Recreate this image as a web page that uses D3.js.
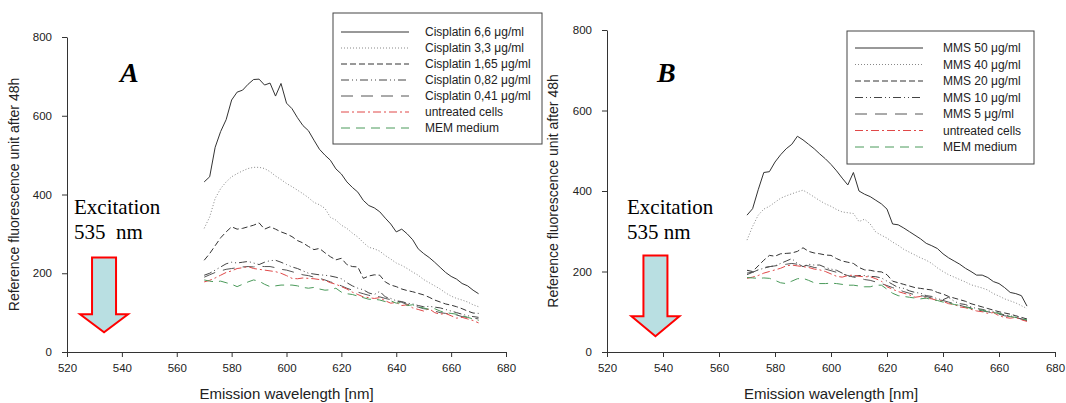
<!DOCTYPE html>
<html>
<head>
<meta charset="utf-8">
<script src="https://cdn.jsdelivr.net/npm/d3@7/dist/d3.min.js"></script>
<style>
body { margin: 0; background: #fff; }
svg { display: block; }
</style>
</head>
<body>
<div id="chart"></div>
<script>
// emission wavelengths (nm), shared by all curves
var wavelengths = [570, 572, 574, 576, 578, 580, 582, 584, 586, 588, 590, 592, 594, 596, 598, 600,
    602, 604, 606, 608, 610, 612, 614, 616, 618, 620, 622, 624, 626, 628, 630, 632, 634, 636, 638, 640,
    642, 644, 646, 648, 650, 652, 654, 656, 658, 660, 662, 664, 666, 668, 670];

var xTicks = [520, 540, 560, 580, 600, 620, 640, 660, 680];
var yTicks = [0, 200, 400, 600, 800];

// panel A - cisplatin
var cisplatin66 = [432, 445, 520, 560, 590, 640, 660, 665, 680, 692, 693, 678, 683, 650, 682, 632,
    618, 595, 575, 562, 538, 515, 500, 487, 465, 452, 432, 418, 406, 385, 372, 366, 356, 340, 325, 305,
    312, 300, 285, 262, 250, 240, 228, 215, 202, 192, 185, 174, 168, 157, 148];
var cisplatin33 = [314, 343, 390, 415, 432, 445, 453, 460, 466, 469, 469, 466, 458, 447, 438, 428,
    420, 411, 402, 392, 380, 374, 365, 342, 335, 322, 314, 302, 292, 278, 266, 262, 256, 245, 236, 226,
    220, 212, 203, 195, 184, 176, 168, 160, 150, 142, 136, 132, 127, 120, 115];
var cisplatin165 = [233, 250, 270, 290, 305, 318, 312, 314, 318, 322, 328, 312, 318, 312, 305, 300,
    293, 283, 277, 268, 260, 263, 252, 242, 234, 238, 222, 217, 216, 187, 193, 196, 195, 178, 170, 166,
    160, 156, 153, 149, 145, 139, 132, 127, 122, 119, 115, 110, 104, 99, 98];
var cisplatin082 = [195, 200, 208, 216, 224, 228, 226, 228, 230, 226, 222, 228, 232, 233, 228, 222,
    216, 212, 206, 200, 198, 196, 195, 193, 190, 186, 176, 168, 162, 158, 150, 146, 154, 140, 136, 130,
    128, 124, 122, 118, 115, 116, 114, 112, 108, 104, 100, 96, 92, 90, 88];
var cisplatin041 = [190, 196, 202, 206, 210, 212, 214, 216, 217, 216, 218, 217, 217, 214, 210, 208,
    204, 200, 196, 194, 190, 187, 183, 178, 174, 168, 162, 157, 152, 148, 144, 142, 140, 136, 133, 130,
    126, 121, 118, 114, 110, 108, 104, 100, 98, 96, 94, 90, 88, 86, 84];
var untreatedA = [178, 182, 188, 195, 202, 206, 212, 214, 217, 212, 210, 208, 206, 204, 200, 194,
    187, 186, 188, 187, 186, 184, 182, 176, 172, 166, 160, 152, 146, 140, 138, 136, 138, 130, 124, 126,
    118, 120, 112, 108, 104, 110, 100, 96, 98, 92, 86, 88, 84, 80, 74];
var memA = [183, 180, 178, 180, 176, 172, 166, 172, 178, 183, 180, 172, 166, 168, 170, 170,
    170, 168, 164, 162, 164, 160, 157, 158, 162, 152, 148, 146, 142, 138, 134, 134, 132, 128, 130, 124,
    126, 118, 120, 114, 112, 108, 110, 104, 100, 98, 96, 92, 88, 84, 80];

// panel B - MMS
var mms50 = [340, 356, 403, 446, 448, 472, 490, 505, 516, 536, 527, 516, 505, 492, 480, 466,
    450, 432, 415, 446, 400, 392, 386, 377, 368, 355, 318, 316, 308, 299, 290, 281, 270, 264, 257, 244,
    234, 226, 218, 208, 200, 191, 191, 185, 175, 170, 160, 148, 145, 140, 114];
var mms40 = [278, 312, 340, 355, 362, 372, 382, 388, 393, 398, 402, 394, 385, 376, 368, 362,
    354, 348, 346, 344, 324, 330, 318, 298, 290, 283, 273, 265, 255, 248, 241, 234, 228, 220, 209, 200,
    192, 186, 180, 174, 167, 163, 159, 154, 145, 139, 132, 127, 122, 115, 108];
var mms20 = [203, 200, 214, 228, 240, 238, 244, 245, 246, 250, 259, 250, 246, 244, 241, 240,
    232, 226, 223, 220, 210, 204, 203, 200, 199, 192, 176, 172, 168, 164, 160, 158, 156, 154, 148, 144,
    138, 134, 130, 126, 120, 116, 112, 108, 104, 100, 97, 94, 90, 86, 82];
var mms10 = [196, 198, 204, 208, 212, 214, 220, 226, 232, 220, 212, 218, 216, 216, 210, 206,
    203, 196, 188, 188, 190, 190, 188, 187, 184, 176, 168, 160, 158, 152, 148, 146, 140, 138, 132, 130,
    136, 126, 120, 118, 112, 108, 106, 102, 100, 96, 92, 90, 86, 82, 78];
var mms5 = [192, 198, 204, 210, 212, 214, 216, 218, 220, 218, 216, 214, 210, 208, 206, 202,
    198, 194, 190, 186, 184, 180, 178, 174, 170, 165, 160, 155, 150, 146, 142, 140, 138, 134, 130, 128,
    124, 120, 116, 112, 110, 106, 102, 100, 96, 94, 90, 88, 85, 82, 78];
var untreatedB = [183, 186, 190, 196, 200, 204, 208, 214, 216, 214, 212, 210, 206, 204, 200, 194,
    188, 186, 190, 191, 188, 187, 187, 182, 176, 162, 156, 150, 146, 142, 136, 138, 134, 132, 128, 126,
    120, 118, 112, 110, 106, 102, 100, 96, 98, 90, 86, 84, 86, 80, 76];
var memB = [185, 184, 183, 184, 183, 178, 172, 170, 176, 182, 183, 178, 172, 170, 170, 171,
    170, 168, 166, 166, 164, 162, 162, 166, 166, 156, 146, 140, 138, 136, 134, 132, 134, 130, 128, 124,
    122, 118, 116, 112, 108, 106, 104, 100, 98, 96, 92, 88, 86, 82, 80];

var labelsA = ["Cisplatin 6,6 μg/ml", "Cisplatin 3,3 μg/ml", "Cisplatin 1,65 μg/ml",
    "Cisplatin 0,82 μg/ml", "Cisplatin 0,41 μg/ml", "untreated cells", "MEM medium"];
var labelsB = ["MMS 50 μg/ml", "MMS 40 μg/ml", "MMS 20 μg/ml", "MMS 10 μg/ml",
    "MMS 5 μg/ml", "untreated cells", "MEM medium"];

// line styles, same order in both panels
var styles = [
    { color: "#333", dash: null },
    { color: "#888", dash: "1,2" },
    { color: "#333", dash: "6,3" },
    { color: "#444", dash: "8,3,1,3,1,3" },
    { color: "#555", dash: "12,8" },
    { color: "#e04848", dash: "8,3,2,3" },
    { color: "#4a9a5a", dash: "9,6" }
];

var width = 1066, height = 403;
var sans = "'Liberation Sans', Arial, sans-serif";
var serif = "'Liberation Serif', 'Times New Roman', serif";

var svg = d3.select("#chart").append("svg")
    .attr("width", width)
    .attr("height", height);

function drawPanel(cfg) {
    var x = d3.scaleLinear().domain([520, 680]).range([cfg.left, cfg.right]);
    var y = d3.scaleLinear().domain([0, 800]).range([cfg.bottom, cfg.top]);
    var g = svg.append("g");

    // axes
    var xAxis = g.append("g")
        .attr("transform", "translate(0," + cfg.bottom + ")")
        .call(d3.axisBottom(x).tickValues(xTicks).tickSize(5).tickSizeOuter(0).tickPadding(7));
    var yAxis = g.append("g")
        .attr("transform", "translate(" + cfg.left + ",0)")
        .call(d3.axisLeft(y).tickValues(yTicks).tickSize(5).tickSizeOuter(0).tickPadding(10));
    [xAxis, yAxis].forEach(function (a) {
        a.select(".domain").attr("stroke", "#333");
        a.selectAll(".tick line").attr("stroke", "#333");
        a.selectAll(".tick text").attr("fill", "#222")
            .style("font-family", sans).style("font-size", "11.5px");
    });

    g.append("text")
        .attr("x", (cfg.left + cfg.right) / 2)
        .attr("y", 399)
        .attr("text-anchor", "middle")
        .style("font-family", sans).style("font-size", "15px").attr("fill", "#222")
        .text("Emission wavelength [nm]");
    g.append("text")
        .attr("transform", "translate(" + cfg.ylabelX + "," + (cfg.top + cfg.bottom) / 2 + ") rotate(-90)")
        .attr("text-anchor", "middle")
        .style("font-family", sans).style("font-size", "14px").attr("fill", "#222")
        .text("Reference fluorescence unit after 48h");

    // curves
    var line = d3.line()
        .x(function (d, i) { return x(wavelengths[i]); })
        .y(function (d) { return y(d); });
    g.selectAll(".curve")
        .data(cfg.series)
        .join("path")
        .attr("class", "curve")
        .attr("d", line)
        .attr("fill", "none")
        .attr("stroke", function (d, i) { return styles[i].color; })
        .attr("stroke-width", 1)
        .attr("stroke-dasharray", function (d, i) { return styles[i].dash; });

    // panel letter
    g.append("text")
        .attr("x", cfg.letterX).attr("y", 82)
        .style("font-family", serif).style("font-size", "28px")
        .style("font-weight", "bold").style("font-style", "italic")
        .text(cfg.letter);

    // excitation note + arrow
    g.append("text")
        .attr("x", cfg.noteX).attr("y", 214)
        .style("font-family", serif).style("font-size", "21px")
        .text("Excitation");
    g.append("text")
        .attr("x", cfg.noteX).attr("y", 239)
        .style("font-family", serif).style("font-size", "21px")
        .style("white-space", "pre")
        .text(cfg.noteNm);

    var ax = x(cfg.arrowAt), top = y(240), neck = y(cfg.neckAt), tip = y(cfg.tipAt);
    var hw = 12, ww = 24;
    var pts = [[ax - hw, top], [ax + hw, top], [ax + hw, neck], [ax + ww, neck],
        [ax, tip], [ax - ww, neck], [ax - hw, neck]];
    g.append("path")
        .attr("d", "M" + pts.join("L") + "Z")
        .attr("fill", "#b9dfe2")
        .attr("stroke", "#f00")
        .attr("stroke-width", 2)
        .attr("stroke-linejoin", "miter");

    // legend
    var lg = g.append("g").attr("transform", "translate(" + cfg.legX + "," + cfg.legY + ")");
    lg.append("rect")
        .attr("width", cfg.legW).attr("height", cfg.legH)
        .attr("fill", "#fff").attr("stroke", "#444").attr("stroke-width", 1);
    var rows = lg.selectAll(".row")
        .data(cfg.labels)
        .join("g")
        .attr("class", "row")
        .attr("transform", function (d, i) { return "translate(0," + (cfg.rowY0 + i * cfg.rowH) + ")"; });
    rows.append("line")
        .attr("x1", 8).attr("x2", 76)
        .attr("stroke", function (d, i) { return styles[i].color; })
        .attr("stroke-dasharray", function (d, i) { return styles[i].dash; });
    rows.append("text")
        .attr("x", cfg.textX).attr("y", 4)
        .style("font-family", sans).style("font-size", "12px").attr("fill", "#222")
        .text(function (d) { return d; });
}

drawPanel({
    left: 67, right: 506, top: 37, bottom: 352, ylabelX: 19,
    series: [cisplatin66, cisplatin33, cisplatin165, cisplatin082, cisplatin041, untreatedA, memA],
    labels: labelsA, letter: "A", letterX: 120,
    noteX: 74, noteNm: "535  nm", arrowAt: 533.5, neckAt: 96, tipAt: 50,
    legX: 333, legY: 13, legW: 209, legH: 131, rowY0: 19, rowH: 16, textX: 92
});
drawPanel({
    left: 607, right: 1055, top: 30, bottom: 352, ylabelX: 558,
    series: [mms50, mms40, mms20, mms10, mms5, untreatedB, memB],
    labels: labelsB, letter: "B", letterX: 657,
    noteX: 627, noteNm: "535 nm", arrowAt: 537.3, neckAt: 89, tipAt: 39,
    legX: 847, legY: 31, legW: 187, legH: 133, rowY0: 17, rowH: 16.5, textX: 96
});
</script>
</body>
</html>
